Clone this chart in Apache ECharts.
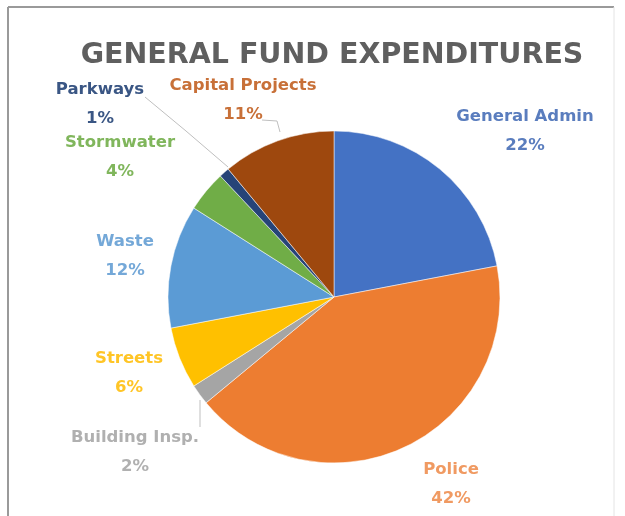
<!DOCTYPE html>
<html><head><meta charset="utf-8">
<script src="https://cdn.jsdelivr.net/npm/echarts@6/dist/echarts.min.js"></script>
<style>html,body{margin:0;padding:0;background:#fff}#c{width:625px;height:516px}</style>
</head><body><div id="c"></div>
<script>
const categories = ['General Admin','Police','Building Insp.','Streets','Waste','Stormwater','Parkways','Capital Projects'];
const values = [22, 42, 2, 6, 12, 4, 1, 11];
const colors = ['#4472C4','#ED7D31','#A5A5A5','#FFC000','#5B9BD5','#70AD47','#264478','#9E480E'];
const labelColors = ['#5A7DBE','#F09A62','#B0B0B0','#FFC526','#74A8D8','#80B65C','#3A5684','#C87038'];
// label placement (style, centre of the two-line label)
const labelPos = [[525,131],[451,484],[135,452],[129,373],[125,256],[120,157],[100,104],[243,100]];
const linePts = {
  2: [[200,427],[200,412],[200,400]],
  6: [[145,97],[186,131],[228,167]],
  7: [[262,120],[277,121],[280,132]]
};
const chart = echarts.init(document.getElementById('c'));
chart.setOption({
  animation:false,
  title:{text:'GENERAL FUND EXPENDITURES',left:327,textAlign:'center',top:36,
    textStyle:{fontFamily:'DejaVu Sans',fontWeight:'bold',fontSize:28.5,color:'#5f5f5f'}},
  graphic:[
    {type:'line',shape:{x1:8,y1:7,x2:614,y2:7},style:{stroke:'#9a9a9a',lineWidth:2}},
    {type:'line',shape:{x1:8,y1:7,x2:8,y2:516},style:{stroke:'#9a9a9a',lineWidth:2}},
    {type:'line',shape:{x1:614,y1:7,x2:614,y2:516},style:{stroke:'#e4e4e4',lineWidth:1}}
  ],
  series:[{
    type:'pie',
    center:[334,297],
    radius:[0,166],
    startAngle:90,
    clockwise:true,
    data:categories.map((n,i)=>({name:n,value:values[i],
      itemStyle:{color:colors[i]},
      label:{color:labelColors[i]},
      labelLine:{show: linePts[i]!==undefined}})),
    itemStyle:{borderColor:'#fff',borderWidth:0.5},
    label:{show:true,position:'outside',formatter:'{b}\n{d}%',overflow:'none',
      fontFamily:'DejaVu Sans',fontWeight:'bold',fontSize:16.5,lineHeight:29,align:'center'},
    labelLine:{lineStyle:{color:'#bfbfbf',width:1}},
    labelLayout:function(p){
      const pos = labelPos[p.dataIndex];
      const r = {x:pos[0],y:pos[1],align:'center',verticalAlign:'middle',width:220};
      if(linePts[p.dataIndex]) r.labelLinePoints = linePts[p.dataIndex];
      return r;
    }
  }]
});
</script></body></html>
